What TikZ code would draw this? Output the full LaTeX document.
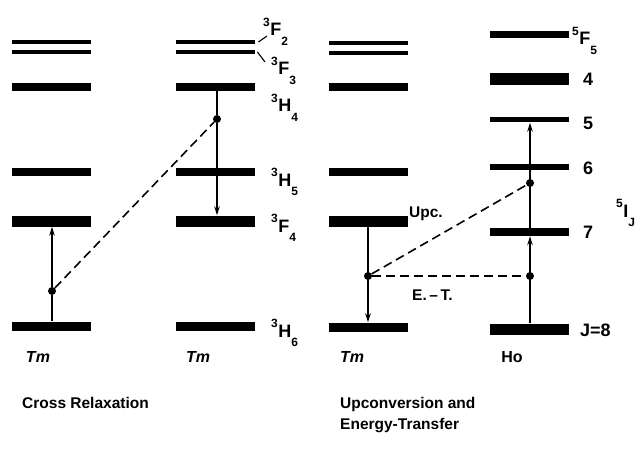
\documentclass[tikz,border=0pt]{standalone}
\usepackage{fontspec}
\setmainfont{Liberation Sans}
\usetikzlibrary{arrows.meta}
\newcommand{\lv}[3]{\raisebox{0.55em}{\fontsize{12}{12}\selectfont #1}\kern0.6pt#2\raisebox{-0.55em}{\fontsize{12}{12}\selectfont #3}}
\begin{document}
\begin{tikzpicture}[x=1pt,y=-1pt,
  lev/.style={fill=black, draw=none, rectangle, inner sep=0pt, minimum width=79pt, minimum height=#1, anchor=west},
  lev/.default=8pt,
  dot/.style={circle, fill=black, inner sep=0pt, minimum size=8pt},
  lbl/.style={font=\fontsize{18}{18}\selectfont\bfseries, anchor=base west, inner sep=0pt},
  capc/.style={font=\fontsize{16}{18}\selectfont\bfseries, inner sep=0pt, anchor=base},
  capl/.style={font=\fontsize{15.5}{18}\selectfont\bfseries, inner sep=0pt, anchor=base west},
  ar/.style={line width=1.6pt, -{Stealth[length=9pt,width=5.5pt]}},
  ln/.style={line width=1.6pt},
  dsh/.style={line width=1.6pt, dash pattern=on 9pt off 5pt},
  lead/.style={line width=1.1pt}
]
\useasboundingbox[fill=white] (0,0) rectangle (641,460);
% column 1 (Tm)
\node[lev=4.5pt] (a1F2) at (12,42) {};
\node[lev=4.5pt] (a1F3) at (12,52) {};
\node[lev=8pt] (a1H4) at (12,87) {};
\node[lev=8pt] (a1H5) at (12,172) {};
\node[lev=11pt] (a1F4) at (12,221) {};
\node[lev=9pt] (a1H6) at (12,326) {};
% column 2 (Tm)
\node[lev=4.5pt] (a2F2) at (176,42) {};
\node[lev=4.5pt] (a2F3) at (176,52) {};
\node[lev=8pt] (a2H4) at (176,87) {};
\node[lev=8pt] (a2H5) at (176,172) {};
\node[lev=11pt] (a2F4) at (176,221) {};
\node[lev=9pt] (a2H6) at (176,326) {};
% column 3 (Tm)
\node[lev=4pt] (a3F2) at (329,43) {};
\node[lev=4pt] (a3F3) at (329,53) {};
\node[lev=8pt] (a3H4) at (329,87) {};
\node[lev=8pt] (a3H5) at (329,172) {};
\node[lev=11pt] (a3F4) at (329,221) {};
\node[lev=9pt] (a3H6) at (329,327) {};
% column 4 (Ho)
\node[lev=7pt] (b55) at (490,35) {};
\node[lev=12pt] (b4) at (490,79) {};
\node[lev=5pt] (b5) at (490,120) {};
\node[lev=6pt] (b6) at (490,167) {};
\node[lev=8pt] (b7) at (490,232) {};
\node[lev=11pt] (b8) at (490,329) {};
% dots
\node[dot] (d1) at (52,291) {};
\node[dot] (d2) at (217,119) {};
\node[dot] (d3) at (368,276) {};
\node[dot] (d4a) at (530,276) {};
\node[dot] (d4b) at (530,183) {};
% cross relaxation
\draw[ln] (a1H6.north -| d1) -- (d1);
\draw[ar] (d1) -- (d1 |- a1F4.south);
\draw[ln] (a2H4.south -| d2) -- (d2);
\draw[ar] (d2) -- (d2 |- a2F4.north);
\draw[dsh] (d1) -- (d2);
% upconversion and energy transfer
\draw[ar] (a3F4.south -| d3) -- (d3 |- a3H6.north);
\draw[ar] (b8.north -| d4a) -- (d4a |- b7.south);
\draw[ar] (b7.north -| d4a) -- (d4a |- b5.south);
\draw[dsh] (d3) -- (d4a);
\draw[dsh] (d3) -- (d4b);
% leaders
\coordinate (t2) at (267,36);
\coordinate (t3) at (265,62);
\draw[lead] ([xshift=3pt]a2F2.east) -- (t2);
\draw[lead] ([xshift=2pt]a2F3.east) -- (t3);
% level labels
\node[lbl] (l2) at (263,36) {\lv{3}{F}{2}};
\node[lbl] (l3) at (271,75) {\lv{3}{F}{3}};
\node[lbl] (l4) at (271,112) {\lv{3}{H}{4}};
\node[lbl] (l5) at (271,186) {\lv{3}{H}{5}};
\node[lbl] (l6) at (271,232) {\lv{3}{F}{4}};
\node[lbl] (l7) at (271,337) {\lv{3}{H}{6}};
\node[lbl] (h1) at (572,45) {\lv{5}{F}{5}};
\node[lbl] (h2) at (583,86) {4};
\node[lbl] (h3) at (583,130) {5};
\node[lbl] (h4) at (583,175) {6};
\node[lbl] (h5) at (583,238) {7};
\node[lbl] (h6) at (580,336) {J=8};
\node[lbl] (h7) at (616,217) {\lv{5}{I}{J}};
\node[capl] (upc) at (409,217) {Upc.};
\node[capl] (et) at (412,300) {E.\,--\,T.};
% captions
\node[capc] (tm1) at (38,362) {\itshape Tm};
\node[capc] (tm2) at (198,362) {\itshape Tm};
\node[capc] (tm3) at (352,362) {\itshape Tm};
\node[capc] (ho) at (512,362) {Ho};
\node[capl] (c1) at (22,408) {Cross Relaxation};
\node[capl] (c2) at (340,408) {Upconversion and};
\node[capl] (c3) at (340,429) {Energy-Transfer};
\end{tikzpicture}
\end{document}
